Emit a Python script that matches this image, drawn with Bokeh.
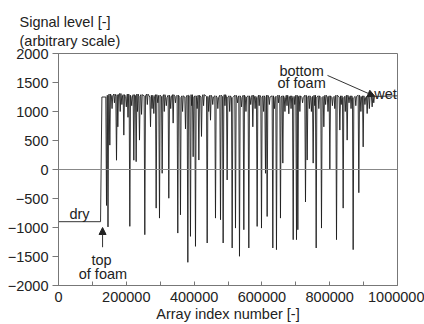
from bokeh.plotting import figure
from bokeh.models import Range1d, FixedTicker, BasicTickFormatter, Span, Label, Arrow, NormalHead, Title
from bokeh.embed import file_html
from bokeh.resources import INLINE

# ---- data ----
x_ticks = [0, 200000, 400000, 600000, 800000, 1000000]
x_minor_ticks = [100000, 300000, 500000, 700000, 900000]
y_ticks = [-2000, -1500, -1000, -500, 0, 500, 1000, 1500, 2000]

dry_level = -900
dry_end = 124000
foam_start = 128000
foam_start_level = 1250
foam_end = 935000
foam_end_level = 1260
wet_level = 1270
array_end = 1000000

spike_x = [141600, 146000, 151400, 158000, 165000, 171100, 175000, 182000, 187000, 192700,
           200000, 205000, 210400, 216000, 222200, 229100, 233000, 238900, 245000, 254600,
           262000, 271400, 276000, 281200, 288100, 293000, 297900, 305800, 312000, 318000,
           325400, 331000, 338200, 345000, 351900, 359800, 366000, 374600, 381500, 389300,
           393000, 397200, 404100, 409000, 414000, 421800, 428000, 438600, 443000, 448400,
           455000, 463100, 470000, 477900, 485700, 491000, 497500, 505000, 512300, 522100,
           528000, 533900, 540000, 546700, 553000, 561400, 567000, 573200, 580000, 586000,
           592000, 598800, 605000, 610600, 615500, 622000, 632200, 637000, 643000, 649000,
           654800, 661700, 668000, 674000, 679400, 686000, 692300, 697000, 702100, 706000,
           712000, 720000, 728600, 733600, 740000, 746000, 751200, 756000, 760100, 768000,
           775800, 782700, 788000, 795000, 800400, 808000, 815000, 820100, 829900, 834000,
           839700, 846000, 851500, 857000, 863000, 869200, 877000, 885900, 892000, 898700,
           904000, 910500, 917000, 925200, 930000]
spike_min = [-620, -990, 420, 1050, 1150, 160, 736, 1000, 1120, 593,
             1080, 900, -980, 1100, 160, 135, 1000, 507, 950, -1124,
             1120, 736, 1050, 965, -666, 1150, -838, -65, 1000, 1100,
             -495, 1050, 800, 1150, -1096, -781, 1000, 700, -1600, -1153,
             1100, 220, -1325, 1050, 163, 570, 1100, -1267, 1000, 850,
             1120, -838, 1050, -866, -1267, 1100, -180, 1000, -1353, -1010,
             1150, -1496, 1080, -1038, 1000, -1353, 1120, 736, 1050, -981,
             1100, -1010, 1000, -65, -810, 1120, -1353, 1050, -1382, 1150,
             -838, 110, 1000, 1100, 960, 1050, -1210, 1120, -1210, -1038,
             1000, 1150, -560, 163, 1050, 1000, 110, 1100, -1353, 1050,
             -1010, 736, 1120, 1000, 0, 1100, 1050, -1210, 680, 1120,
             -666, 1000, 507, 1150, 1050, -1382, 1100, -400, 1000, 390,
             1120, 965, 1050, 1080, 1150]
spike_top = [1250, 1280, 1300, 1270, 1300, 1260, 1290, 1310, 1270, 1290,
             1260, 1300, 1280, 1250, 1290, 1270, 1300, 1260, 1290, 1270,
             1300, 1250, 1280, 1260, 1290, 1250, 1280, 1260, 1290, 1240,
             1280, 1250, 1290, 1260, 1280, 1240, 1270, 1250, 1280, 1260,
             1290, 1250, 1270, 1240, 1280, 1250, 1290, 1260, 1240, 1280,
             1250, 1270, 1240, 1280, 1260, 1290, 1250, 1270, 1240, 1280,
             1250, 1270, 1240, 1280, 1250, 1270, 1240, 1280, 1260, 1240,
             1280, 1250, 1270, 1240, 1280, 1250, 1270, 1240, 1260, 1280,
             1250, 1270, 1240, 1280, 1250, 1270, 1240, 1260, 1280, 1250,
             1270, 1240, 1280, 1250, 1270, 1240, 1260, 1280, 1250, 1270,
             1240, 1260, 1280, 1250, 1270, 1240, 1260, 1280, 1250, 1270,
             1240, 1260, 1280, 1250, 1270, 1240, 1260, 1280, 1250, 1270,
             1240, 1260, 1280, 1250, 1260]

# ---- build the signal trace from the values ----
half_w = 2000
sig_x = [0, dry_end, foam_start]
sig_y = [dry_level, dry_level, foam_start_level]
for sx, smin, stop in zip(spike_x, spike_min, spike_top):
    sig_x += [sx - half_w, sx, sx + half_w]
    sig_y += [stop, smin, stop]
sig_x += [foam_end, array_end]
sig_y += [foam_end_level, wet_level]

FONT = "Liberation Sans"
TXT = "#222222"
AX = "#777777"
FS = "14.5px"

p = figure(width=424, height=324, output_backend="svg", toolbar_location=None,
           x_range=Range1d(0, 1000000), y_range=Range1d(-2000, 2000),
           min_border_left=58, min_border_right=27, min_border_top=53, min_border_bottom=38)
p.title = None
p.background_fill_color = "white"
p.border_fill_color = "white"
p.outline_line_color = AX
p.outline_line_width = 1
p.grid.visible = False

p.line(sig_x, sig_y, line_color="#1e1e1e", line_width=0.9)

p.add_layout(Span(location=0, dimension="width", line_color="#888888", line_width=1))

# axes
p.xaxis.ticker = FixedTicker(ticks=x_ticks, minor_ticks=x_minor_ticks)
p.xaxis.formatter = BasicTickFormatter(use_scientific=False)
p.yaxis.ticker = FixedTicker(ticks=y_ticks)
p.yaxis.formatter = BasicTickFormatter(use_scientific=False)
for ax in (p.xaxis, p.yaxis):
    ax.axis_line_color = AX
    ax.major_tick_line_color = AX
    ax.minor_tick_line_color = AX
    ax.major_label_text_font = FONT
    ax.major_label_text_font_size = FS
    ax.major_label_text_color = TXT
p.xaxis.major_tick_in = 4
p.xaxis.major_tick_out = 0
p.xaxis.minor_tick_in = 4
p.xaxis.minor_tick_out = 0
p.xaxis.major_label_standoff = 6
p.xaxis.axis_label = "Array index number [-]"
p.xaxis.axis_label_text_font = FONT
p.xaxis.axis_label_text_font_size = FS
p.xaxis.axis_label_text_font_style = "normal"
p.xaxis.axis_label_text_color = TXT
p.xaxis.axis_label_standoff = 1
p.yaxis.major_tick_in = 0
p.yaxis.major_tick_out = 6
p.yaxis.minor_tick_line_color = None
p.yaxis.major_label_standoff = 4

# two-line title
p.add_layout(Title(text="Signal level [-]\n(arbitrary scale)", align="left", offset=-39, standoff=8,
                   text_font=FONT, text_font_size=FS, text_font_style="normal",
                   text_line_height=1.2, text_color=TXT), "above")

def note(x, y, t, align="center"):
    p.add_layout(Label(x=x, y=y, text=t, text_font=FONT, text_font_size=FS,
                       text_color=TXT, text_align=align, text_baseline="alphabetic"))

note(62000, -770, "dry")
note(127000, -1560, "top")
note(131000, -1810, "of foam")
note(717000, 1691, "bottom")
note(717000, 1485, "of foam")
note(998000, 1305, "wet", align="right")

p.add_layout(Arrow(end=NormalHead(size=7, fill_color="#222222", line_color="#222222"),
                   x_start=130000, y_start=-1340, x_end=130000, y_end=-1000,
                   line_color="#333333", line_width=1))
p.add_layout(Arrow(end=NormalHead(size=7, fill_color="#222222", line_color="#222222"),
                   x_start=793500, y_start=1622, x_end=933000, y_end=1262,
                   line_color="#333333", line_width=1))

open("out.html", "w").write(file_html(p, INLINE))
